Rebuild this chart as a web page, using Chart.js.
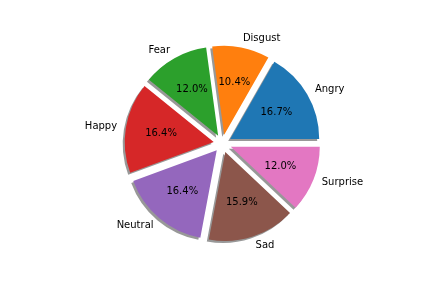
<!DOCTYPE html>
<html>
<head>
<meta charset="utf-8">
<script src="https://cdn.jsdelivr.net/npm/chart.js@4.4.0/dist/chart.umd.min.js"></script>
<style>
  html, body { margin: 0; padding: 0; background: #fff; }
  #wrap { width: 432px; height: 288px; }
</style>
</head>
<body>
<div id="wrap"><canvas id="chart" width="432" height="288"></canvas></div>
<script>
// data, in matplotlib order (counter-clockwise from 3 o'clock)
const emotions = ['Angry', 'Disgust', 'Fear', 'Happy', 'Neutral', 'Sad', 'Surprise'];
const shares = [16.7, 10.4, 12.0, 16.4, 16.4, 15.9, 12.0];
const colors = ['#1f77b4', '#ff7f0e', '#2ca02c', '#d62728', '#9467bd', '#8c564b', '#e377c2'];

// chart.js goes clockwise, so feed it reversed and start at 3 o'clock
const labels = emotions.slice().reverse();
const values = shares.slice().reverse();
const bg = colors.slice().reverse();

const explode = 0.1; // fraction of radius

// push each wedge out along its middle angle
const explodePlugin = {
  id: 'explode',
  afterDatasetUpdate(chart, args) {
    const meta = chart.getDatasetMeta(args.index);
    meta.data.forEach(arc => {
      const mid = (arc.startAngle + arc.endAngle) / 2;
      const d = explode * arc.outerRadius;
      arc.x = arc.x + Math.cos(mid) * d;
      arc.y = arc.y + Math.sin(mid) * d;
    });
  }
};

const shadowPlugin = {
  id: 'shadow',
  beforeDatasetsDraw(chart) {
    const ctx = chart.ctx;
    ctx.save();
    ctx.shadowColor = 'rgba(50,50,50,0.5)';
    ctx.shadowOffsetX = -2;
    ctx.shadowOffsetY = 2;
    ctx.shadowBlur = 0;
  },
  afterDatasetsDraw(chart) {
    chart.ctx.restore();
  }
};

const textPlugin = {
  id: 'pieText',
  afterDraw(chart) {
    const ctx = chart.ctx;
    const meta = chart.getDatasetMeta(0);
    ctx.save();
    ctx.font = '10px "DejaVu Sans"';
    ctx.fillStyle = '#000';
    ctx.textBaseline = 'middle';
    meta.data.forEach((arc, i) => {
      const mid = (arc.startAngle + arc.endAngle) / 2;
      const r = arc.outerRadius;
      // percentage at 0.6 r
      ctx.textAlign = 'center';
      ctx.fillText(values[i].toFixed(1) + '%', arc.x + Math.cos(mid) * r * 0.6, arc.y + Math.sin(mid) * r * 0.6);
      // label at 1.1 r
      const cx = Math.cos(mid);
      ctx.textAlign = cx > 0 ? 'left' : 'right';
      ctx.fillText(labels[i], arc.x + cx * r * 1.1, arc.y + Math.sin(mid) * r * 1.1);
    });
    ctx.restore();
  }
};

new Chart(document.getElementById('chart'), {
  type: 'pie',
  data: {
    labels: labels,
    datasets: [{
      data: values,
      backgroundColor: bg,
      borderWidth: 0
    }]
  },
  options: {
    responsive: false,
    animation: false,
    rotation: 90,
    radius: 89,
    layout: { padding: { left: 33, right: 20, top: 18, bottom: 19 } },
    plugins: {
      legend: { display: false },
      tooltip: { enabled: false }
    },
    events: []
  },
  plugins: [explodePlugin, shadowPlugin, textPlugin]
});
</script>
</body>
</html>
